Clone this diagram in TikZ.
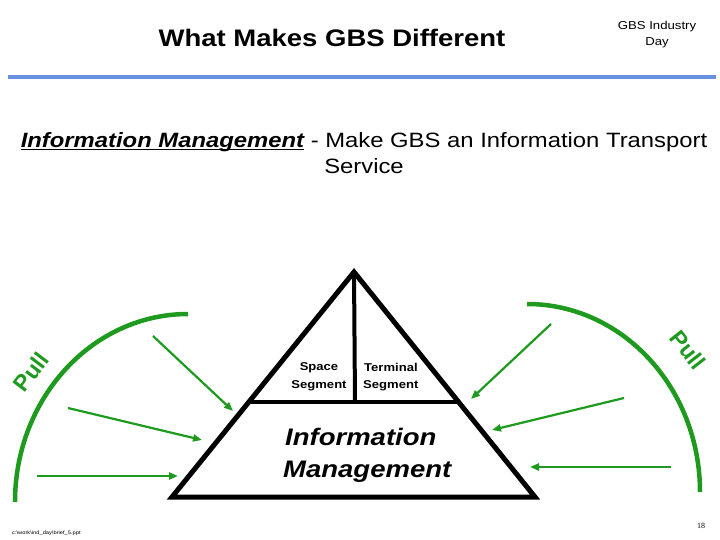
\documentclass[tikz,border=0pt]{standalone}
\usepackage{fontspec}
\setmainfont{Liberation Sans}
\newfontfamily\serifnum{Liberation Serif}
\usetikzlibrary{arrows.meta}
\definecolor{pullgreen}{RGB}{30,155,30}
\definecolor{barblue}{RGB}{105,145,225}
\newcommand\wide[1]{\scalebox{1.15}[1]{#1}}
\newsavebox\ulbox
\newcommand\myunder[1]{\sbox\ulbox{#1}\rlap{\rule[-2.2pt]{\wd\ulbox}{1.3pt}}\usebox\ulbox}
\begin{document}
\begin{tikzpicture}[x=1bp,y=-1bp,
  pullarrow/.style={draw=pullgreen, line width=2.2bp, -{Triangle[length=9bp,width=7bp]}},
  pullarc/.style={draw=pullgreen, line width=4.5bp},
  tri/.style={line width=5bp, line join=miter},
  innerline/.style={line width=4bp},
  txt/.style={inner sep=0pt},
  segtxt/.style={inner sep=0pt, font=\fontsize{11.4}{14}\selectfont\bfseries},
  pulltxt/.style={inner sep=0pt, text=pullgreen, font=\fontsize{23}{26}\selectfont\bfseries}]
\useasboundingbox (0,0) rectangle (720,540);
\fill[white] (0,0) rectangle (720,540);

% header
\node[txt, anchor=base, font=\fontsize{24}{28}\selectfont\bfseries] (title) at (332,47) {\wide{What Makes GBS Different}};
\node[txt, anchor=base, font=\fontsize{11.5}{14}\selectfont] (day1) at (657,29.5) {\wide{GBS Industry}};
\node[txt, anchor=base, font=\fontsize{11.5}{14}\selectfont] (day2) at (657,45.5) {\wide{Day}};
\coordinate (barL) at (8,77);
\coordinate (barR) at (716,77);
\draw[barblue, line width=4bp] (barL) -- (barR);

% subtitle
\node[txt, anchor=base, font=\fontsize{20.8}{24}\selectfont] (sub1) at (364,148)
  {\wide{\myunder{\bfseries\itshape Information Management} - Make GBS an Information Transport}};
\node[txt, anchor=base, font=\fontsize{20.8}{24}\selectfont] (sub2) at (364,174) {\wide{Service}};

% triangle
\coordinate (apex) at (354,272);
\coordinate (bl) at (172,497);
\coordinate (br) at (535,497);
\coordinate (ml) at (249,402);
\coordinate (mr) at (459,402);
\coordinate (mid) at (355,402);
\draw[tri] (apex) -- (br) -- (bl) -- cycle;
\draw[innerline] (ml) -- (mr);
\draw[innerline] (apex) -- (mid);

\node[segtxt, anchor=base] (sp1) at (319,370) {\wide{Space}};
\node[segtxt, anchor=base] (sp2) at (319,388) {\wide{Segment}};
\node[segtxt, anchor=base west] (te1) at (364,371) {\wide{Terminal}};
\node[segtxt, anchor=base west] (te2) at (363,388) {\wide{Segment}};

\node[txt, anchor=base west, font=\fontsize{24}{28}\selectfont\bfseries\itshape] (im1) at (285,445) {\wide{Information}};
\node[txt, anchor=base west, font=\fontsize{24}{28}\selectfont\bfseries\itshape] (im2) at (283,477) {\wide{Management}};

% pull arcs
\coordinate (lat) at (188,314);
\coordinate (rat) at (527,304);
\draw[pullarc] (lat) arc[start angle=270, end angle=180, x radius=173, y radius=188];
\draw[pullarc] (rat) arc[start angle=270, end angle=360, x radius=173, y radius=188];
\node[pulltxt, rotate=53] (pullL) at (31,372) {Pull};
\node[pulltxt, rotate=-52] (pullR) at (688,350) {Pull};

% arrows
\coordinate (l1s) at (153,336); \coordinate (l1e) at (233,411);
\coordinate (l2s) at (68,408);  \coordinate (l2e) at (202,440);
\coordinate (l3s) at (37,476);  \coordinate (l3e) at (178,476);
\coordinate (r1s) at (551,324); \coordinate (r1e) at (471,399);
\coordinate (r2s) at (624,398); \coordinate (r2e) at (492,430);
\coordinate (r3s) at (671,467); \coordinate (r3e) at (530,467);
\draw[pullarrow] (l1s) -- (l1e);
\draw[pullarrow] (l2s) -- (l2e);
\draw[pullarrow] (l3s) -- (l3e);
\draw[pullarrow] (r1s) -- (r1e);
\draw[pullarrow] (r2s) -- (r2e);
\draw[pullarrow] (r3s) -- (r3e);

% footer
\node[txt, anchor=west, font=\fontsize{5}{6}\selectfont] (path) at (12,533) {\wide{c:\textbackslash work\textbackslash ind\_day\textbackslash brief\_5.ppt}};
\node[txt, anchor=base, font=\fontsize{8}{10}\selectfont\serifnum] (page) at (701,528) {18};
\end{tikzpicture}
\end{document}
